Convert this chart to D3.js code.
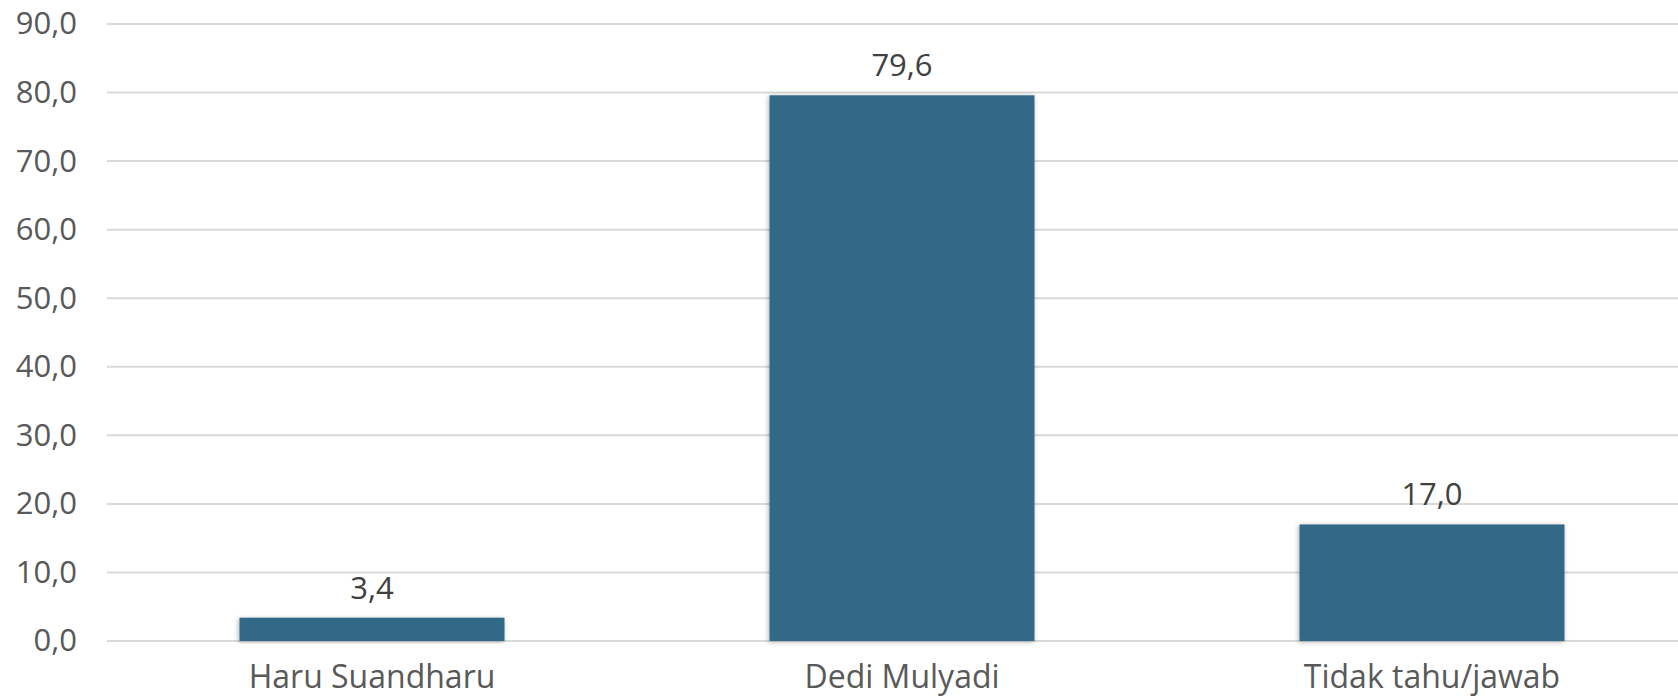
<!DOCTYPE html>
<html><head><meta charset="utf-8">
<script src="https://cdn.jsdelivr.net/npm/d3@7"></script>
<style>body{margin:0;background:#fff}svg{display:block}</style>
</head><body>
<svg id="c" width="1678" height="700"></svg>
<script>
const categories = ["Haru Suandharu", "Dedi Mulyadi", "Tidak tahu/jawab"];
const values = [3.4, 79.6, 17.0];
const yTicks = [0, 10, 20, 30, 40, 50, 60, 70, 80, 90];

const svg = d3.select("#c");
const font = "'Open Sans', sans-serif";
const fmt = v => v.toFixed(1).replace(".", ",");

const x = d3.scaleBand().domain(categories).range([107, 1697]).paddingInner(0.5).paddingOuter(0.25);
const y = d3.scaleLinear().domain([0, 90]).range([641, 24]);

const defs = svg.append("defs");
const f = defs.append("filter").attr("id", "sh").attr("x", "-10%").attr("y", "-10%").attr("width", "120%").attr("height", "120%");
f.append("feDropShadow").attr("dx", -1).attr("dy", 1).attr("stdDeviation", 2.5).attr("flood-color", "#000").attr("flood-opacity", 0.3);

// y axis labels
const yAxis = d3.axisLeft(y).tickValues(yTicks).tickSize(0).tickPadding(30).tickFormat(fmt);
const ga = svg.append("g").attr("transform", "translate(107,0)").call(yAxis);
ga.select(".domain").remove();
ga.selectAll("text").attr("font-family", font).attr("font-size", 31).attr("fill", "#595959");

// gridlines
svg.append("g").selectAll("line").data(yTicks).join("line")
  .attr("x1", 107).attr("x2", 1678)
  .attr("y1", d => y(d)).attr("y2", d => y(d))
  .attr("stroke", "#d9d9d9").attr("stroke-width", 2);

// bars
svg.append("g").selectAll("rect").data(values).join("rect")
  .attr("x", (d, i) => x(categories[i]))
  .attr("width", x.bandwidth())
  .attr("y", d => y(d))
  .attr("height", d => y(0) - y(d))
  .attr("fill", "#316986")
  .attr("filter", "url(#sh)");

// value labels
svg.append("g").selectAll("text").data(values).join("text")
  .attr("x", (d, i) => x(categories[i]) + x.bandwidth() / 2)
  .attr("y", d => y(d) - 19)
  .attr("text-anchor", "middle")
  .attr("font-family", font).attr("font-size", 31).attr("fill", "#404040")
  .text(fmt);

// x axis labels
const xAxis = d3.axisBottom(x).tickSize(0).tickPadding(24);
const gx = svg.append("g").attr("transform", "translate(0,641)").call(xAxis);
gx.select(".domain").remove();
gx.selectAll("text").attr("font-family", font).attr("font-size", 32).attr("fill", "#595959");
</script>
</body></html>
